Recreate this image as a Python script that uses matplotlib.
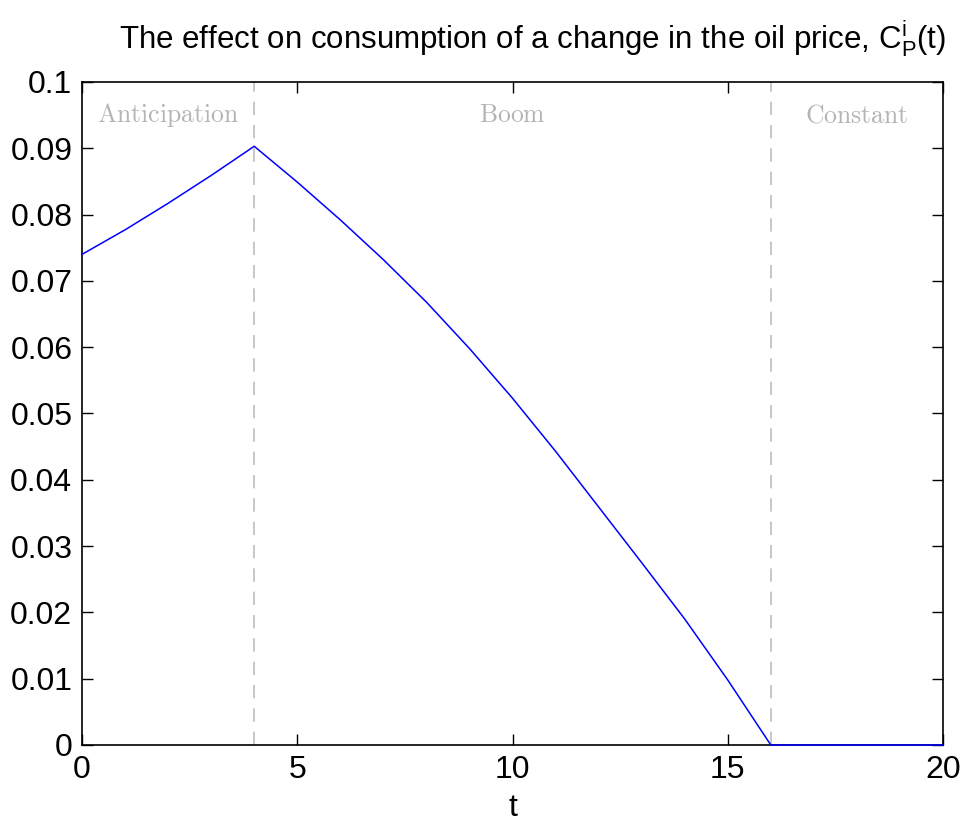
import numpy as np
import matplotlib
matplotlib.use('Agg')
import matplotlib.pyplot as plt

# values (one point per period)
t = np.arange(0, 21)
consumption = [0.0740, 0.0777, 0.0817, 0.0859, 0.0903,
               0.0849, 0.0792, 0.0732, 0.0668, 0.0598,
               0.0523, 0.0443, 0.0359, 0.0275, 0.0190,
               0.0098, 0.0, 0.0, 0.0, 0.0, 0.0]
phase_bounds = [4, 16]
phase_names = ['Anticipation', 'Boom', 'Constant']
phase_centers = [2, 10, 18]

plt.rcParams['font.family'] = ['Liberation Sans', 'DejaVu Sans']
plt.rcParams['mathtext.fontset'] = 'custom'
plt.rcParams['mathtext.rm'] = 'Liberation Sans'
plt.rcParams['mathtext.it'] = 'Liberation Sans:italic'

fig = plt.figure(figsize=(9.66, 8.23), dpi=100)
ax = fig.add_axes([0.0849, 0.0948, 0.8913, 0.8056])

for b in phase_bounds:
    ax.axvline(b, color='#bdbdbd', linestyle=(0, (8, 6)), linewidth=1.2, zorder=1)

ax.plot(t, consumption, color='#0000ff', linewidth=1.1, zorder=3, clip_on=False)

for name, c in zip(phase_names, phase_centers):
    ax.text(c, 0.0950, r'$\mathrm{' + name + '}$', ha='center', va='center',
            color='#b4b4b4', fontsize=18.5, math_fontfamily='cm')

ax.set_xlim(0, 20)
ax.set_ylim(0, 0.1)
ax.set_xticks([0, 5, 10, 15, 20])
ax.set_yticks(np.arange(0, 0.101, 0.01))
ax.set_yticklabels(['0', '0.01', '0.02', '0.03', '0.04', '0.05',
                    '0.06', '0.07', '0.08', '0.09', '0.1'])
ax.tick_params(direction='in', top=True, right=True, length=8, width=1,
               labelsize=23, pad=7)
for s in ax.spines.values():
    s.set_linewidth(1.2)

ax.set_xlabel('t', fontsize=23, labelpad=6)
ax.set_title(r'The effect on consumption of a change in the oil price, '
             r'$\mathrm{C}_{\mathrm{P}}^{\mathrm{i}}$(t)', fontsize=22.5,
             pad=24, x=0.523)

fig.savefig('out.png', dpi=100)
